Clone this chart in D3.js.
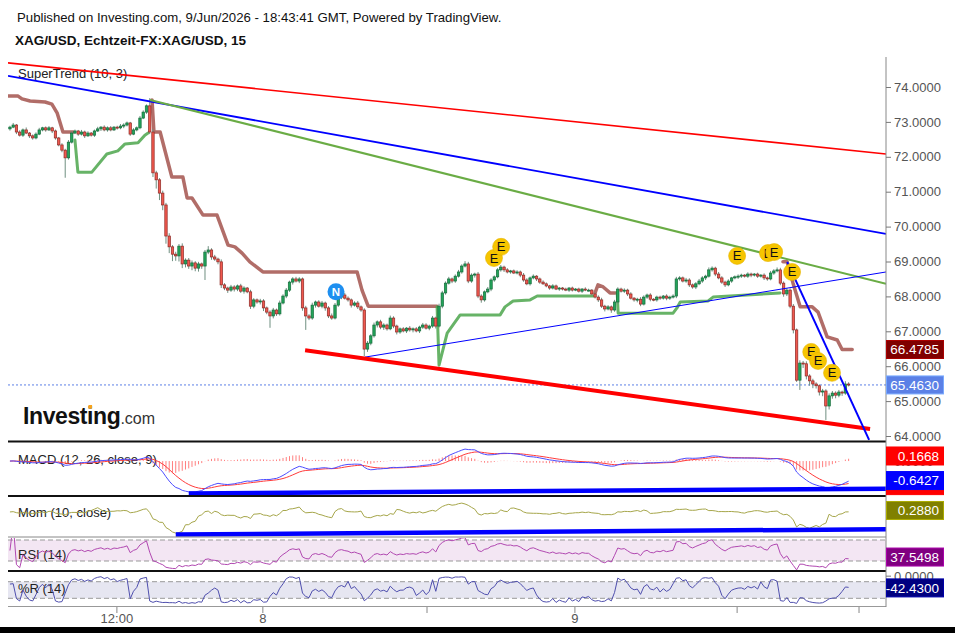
<!DOCTYPE html>
<html>
<head>
<meta charset="utf-8">
<script src="https://cdn.jsdelivr.net/npm/d3@7"></script>
<style>
body { margin: 0; background: #fff; }
svg { display: block; font-family: "Liberation Sans", Arial, sans-serif; }
</style>
</head>
<body>
<div id="chart"></div>
<script>
// 15 min closes
var close = [
72.85,72.91,72.71,72.62,72.77,72.68,72.60,72.54,72.65,72.77,
72.83,72.77,72.83,72.74,72.54,72.34,72.19,71.97,72.42,72.68,
72.74,72.65,72.71,72.60,72.68,72.62,72.74,72.80,72.85,72.77,
72.83,72.77,72.85,72.83,72.88,72.91,72.97,72.65,72.77,72.83,
73.11,73.28,73.46,72.71,71.54,71.34,70.96,70.62,69.73,69.42,
69.21,69.16,69.44,68.93,69.04,68.87,68.96,68.81,68.93,68.87,
69.27,69.33,69.13,69.07,68.99,68.33,68.24,68.18,68.27,68.21,
68.30,68.15,68.24,68.13,67.72,67.90,67.84,67.87,67.67,67.55,
67.44,67.61,67.50,67.81,68.01,68.18,68.41,68.50,68.44,68.50,
67.67,67.44,67.38,67.75,67.84,67.72,67.81,67.67,67.44,67.38,
67.75,67.98,68.04,67.95,67.90,67.75,67.81,67.70,67.61,66.49,
66.66,66.87,67.18,67.27,67.12,67.18,67.07,67.38,67.15,66.98,
67.07,67.01,67.09,67.04,67.07,67.01,67.12,67.18,67.09,67.15,
67.38,67.15,67.72,68.10,68.38,68.50,68.44,68.58,68.70,68.87,
68.93,68.44,68.61,68.64,68.01,67.90,68.13,68.21,68.47,68.56,
68.76,68.84,68.76,68.70,68.73,68.67,68.70,68.61,68.47,68.36,
68.53,68.58,68.50,68.41,68.36,68.30,68.24,68.30,68.21,68.24,
68.21,68.18,68.24,68.18,68.21,68.15,68.21,68.18,68.18,68.07,
67.98,67.90,67.72,67.64,67.70,67.61,67.84,68.21,68.15,68.18,
68.07,67.95,67.90,67.92,67.78,67.98,68.04,67.92,67.90,67.98,
67.95,68.01,67.95,67.98,68.01,68.50,68.53,68.44,68.47,68.33,
68.27,68.36,68.44,68.53,68.58,68.76,68.81,68.64,68.53,68.41,
68.33,68.44,68.53,68.56,68.58,68.61,68.58,68.64,68.61,68.64,
68.58,68.61,68.53,68.50,68.67,68.73,68.76,68.38,68.07,68.18,
67.72,67.04,65.60,66.09,66.07,65.72,65.58,65.49,65.44,65.26,
65.29,64.86,65.15,65.23,65.17,65.26,65.23,65.49,65.46
];
var firstOpen = 72.80;
// upper / lower wick beyond the body, in cents
var hiExt = [
4,6,3,5,4,7,3,4,5,6, 3,4,5,3,4,3,5,4,6,5, 4,3,6,4,5,3,4,6,3,5, 4,5,3,4,6,5,4,3,5,4,
6,5,4,22,8,6,5,7,6,8, 5,7,6,8,5,6,7,5,6,4, 6,11,5,6,4,7,5,4,6,5, 4,6,5,3,6,5,4,6,5,4,
5,6,4,7,5,6,4,5,6,5, 4,6,5,7,4,5,6,4,5,7, 6,5,4,6,5,4,5,6,4,5, 6,5,7,4,6,5,4,7,5,4,
4,5,3,6,4,5,4,6,5,4, 6,4,7,6,5,6,4,5,6,5, 8,6,5,4,6,5,4,6,5,4, 5,6,4,5,3,4,5,4,6,5,
4,5,3,4,5,4,3,5,4,3, 3,4,3,4,3,4,3,5,4,3, 4,5,6,4,5,4,6,5,4,5, 4,5,3,4,6,5,4,5,3,4,
4,3,5,4,5,6,5,4,6,5, 4,5,6,5,4,7,5,4,6,5, 4,5,3,4,5,4,3,5,4,3, 4,3,5,4,6,5,7,6,5,6,
5,6,4,8,6,7,5,6,5,4, 6,5,7,6,5,6,4,8,5
];
var loExt = [
5,3,6,4,5,3,6,5,4,3, 4,5,3,6,5,4,6,57,5,4, 3,5,4,6,3,4,5,3,6,4, 5,4,3,5,4,6,4,5,3,4,
4,3,5,6,12,25,20,15,22,18, 20,14,16,12,10,8,12,9,10,8, 40,6,8,5,7,9,6,8,5,7, 6,5,7,4,8,6,5,7,9,6,
34,7,6,5,4,6,5,7,4,6, 8,40,6,5,7,4,6,8,6,5, 4,5,6,4,5,7,4,6,5,20, 8,6,5,7,6,8,5,4,6,7,
5,4,6,5,7,4,6,5,4,6, 5,7,4,6,5,4,6,5,4,5, 4,6,5,7,6,8,5,4,6,5, 4,5,6,4,5,3,4,6,5,4,
5,4,6,5,3,4,5,4,3,5, 4,3,5,4,3,4,5,3,4,5, 4,6,5,7,4,8,5,6,4,5, 6,4,5,7,6,4,5,6,4,5,
5,4,6,5,4,6,5,4,5,6, 5,6,4,5,6,4,5,6,4,5, 6,4,5,4,6,5,4,5,6,4, 5,4,6,5,4,5,4,6,8,6,
6,10,5,28,12,10,14,12,8,10, 12,40,10,8,9,6,8,5,4
];

// SuperTrend (10, 3) as [candle, price] vertices
var stDown = [
  [[-0.6,73.74],[2.5,73.74],[3.7,73.66],[6.2,73.60],[10.8,73.57],[12.9,73.51],[14.5,73.26],[16.3,72.71],[19.4,72.71]],
  [[43.7,73.63],[44.3,72.71],[46.2,72.71],[49.8,71.42],[53.2,71.42],[54.5,70.82],[56,70.82],[59.4,70.33],[63.7,70.33],
   [67.1,69.47],[69.2,69.42],[71.4,69.24],[73.8,68.99],[77.8,68.70],[106.8,68.70],[108.3,68.18],[110.2,67.72],[131.4,67.72]],
  [[180,68.10],[180.9,68.33],[182.5,68.27],[184.6,68.10],[186.2,68.10]],
  [[237.8,68.99],[239.1,68.99],[240.9,68.38],[243.1,67.70],[246.8,67.70],[248.6,67.55],[251.4,66.84],[254.5,66.75],[256,66.48],[259.1,66.48]]
];
var stUp = [
  [[20,72.48],[20.9,71.56],[25.2,71.56],[29.8,72.08],[33.2,72.17],[35.4,72.37],[39.4,72.40],[41.5,72.62],[42.5,72.68]],
  [[131.4,67.70],[132,66.03],[134.5,66.95],[138.5,67.47],[150.8,67.47],[152.3,67.70],[154.8,67.87],[160,67.90],[162.2,68.01],[179.4,68.01]],
  [[186.8,68.13],[187.1,67.52],[204,67.52],[205.2,67.67],[206.2,67.84],[214.8,67.87],[216.3,67.98],[236.9,68.10]]
];

// drawn trend lines, [candle, price]
var trendRed = [[-0.6,74.69],[269.5,72.08]];
var trendBlue = [[-0.6,74.32],[269.5,69.79]];
var trendGreen = [[43.1,73.63],[269.5,68.36]];
var trendBlueThin = [[109.2,66.26],[269.5,68.70]];
var trendRedThick = [[90.8,66.46],[264.6,64.20]];
var trendBlueSteep = [[239.1,68.99],[264.3,63.89]];

// event markers
var eventIdx = [148.9,151.1,223.7,233.2,235.1,240.6,246.5,248.6,252.9];
var eventPrice = [69.10,69.42,69.16,69.24,69.27,68.70,66.41,66.15,65.81];
var newsIdx = [100.3];
var newsPrice = [68.13];

var priceTicks = [64,65,66,67,68,69,70,71,72,73,74];
var timeTickIdx = [32.9,77.8,128.3,173.8,223.7,261.2];
var timeTickLabels = ["12:00","8","","9","",""];

var lastPrice = 65.4630, lastST = 66.4785;
var lastHist = 0.1668, lastMacd = -0.6427, lastSignal = -0.8095;
var lastMom = 0.2880, lastRsi = 37.5498, lastWr = -42.4300;

// ---------- derived series ----------
var N = close.length;
var open = close.map(function(c, i) { return i ? close[i-1] : firstOpen; });
var high = close.map(function(c, i) { return Math.max(open[i], c) + hiExt[i] / 100; });
var low = close.map(function(c, i) { return Math.min(open[i], c) - loExt[i] / 100; });

function ema(arr, n) {
  var a = 2 / (n + 1), out = [];
  arr.forEach(function(v, i) { out.push(i ? a * v + (1 - a) * out[i-1] : v); });
  return out;
}
var e12 = ema(close, 12), e26 = ema(close, 26);
var macd = close.map(function(c, i) { return e12[i] - e26[i]; });
var signal = ema(macd, 9);
var hist = macd.map(function(m, i) { return m - signal[i]; });
var mom = close.map(function(c, i) { return c - close[Math.max(0, i - 10)]; });
var rsi = [50], ag = 0, al = 0;
for (var i = 1; i < N; i++) {
  var d = close[i] - close[i-1], g = Math.max(d, 0), l = Math.max(-d, 0);
  if (i <= 14) { ag = (ag * (i - 1) + g) / i; al = (al * (i - 1) + l) / i; }
  else { ag = (ag * 13 + g) / 14; al = (al * 13 + l) / 14; }
  rsi.push(al === 0 ? 100 : 100 - 100 / (1 + ag / al));
}
var wr = close.map(function(c, i) {
  var hh = d3.max(high.slice(Math.max(0, i - 13), i + 1));
  var ll = d3.min(low.slice(Math.max(0, i - 13), i + 1));
  return hh === ll ? -50 : (hh - c) / (hh - ll) * -100;
});

// ---------- layout ----------
var W = 955, H = 633, L = 8, R = 886;
var svg = d3.select("#chart").append("svg").attr("width", W).attr("height", H);
svg.append("rect").attr("width", W).attr("height", H).attr("fill", "#fff");

var x = d3.scaleLinear().domain([-0.6, 269.5]).range([L, R]);
var y = d3.scaleLinear().domain([64, 74]).range([436, 87]);
var yMacd = d3.scaleLinear().domain([-1.02, 0.43]).range([492, 448]);
var yMom = d3.scaleLinear().domain([-4.1, 1.9]).range([533, 502.2]);
var yRsi = d3.scaleLinear().domain([30, 70]).range([561, 540]);
var yWr = d3.scaleLinear().domain([-80, -20]).range([598.3, 581.7]);

var panels = { main: [57, 441], macd: [442, 496], mom: [497, 537], rsi: [538, 571], wr: [572, 606] };
var defs = svg.append("defs");
Object.keys(panels).forEach(function(k) {
  defs.append("clipPath").attr("id", "c_" + k).append("rect")
    .attr("x", L).attr("y", panels[k][0]).attr("width", R - L).attr("height", panels[k][1] - panels[k][0]);
});

// header
svg.append("text").attr("x", 17).attr("y", 22).attr("font-size", 13.2).attr("fill", "#111")
  .text("Published on Investing.com, 9/Jun/2026 - 18:43:41 GMT, Powered by TradingView.");
svg.append("text").attr("x", 15).attr("y", 45).attr("font-size", 13.5).attr("font-weight", "bold").attr("fill", "#111")
  .text("XAG/USD, Echtzeit-FX:XAG/USD, 15");

// panel titles
var titles = [["SuperTrend (10, 3)", 77.5], ["MACD (12, 26, close, 9)", 463.5], ["Mom (10, close)", 516.5], ["RSI (14)", 558.5], ["%R (14)", 592.5]];

// bands in RSI / %R
svg.append("rect").attr("x", L).attr("width", R - L).attr("y", yRsi(70)).attr("height", yRsi(30) - yRsi(70)).attr("fill", "#f3e6f3");
svg.append("rect").attr("x", L).attr("width", R - L).attr("y", yWr(-20)).attr("height", yWr(-80) - yWr(-20)).attr("fill", "#e6e6f1");
[yRsi(70), yRsi(30), yWr(-20), yWr(-80)].forEach(function(v) {
  svg.append("line").attr("x1", L).attr("x2", R).attr("y1", v).attr("y2", v)
    .attr("stroke", "#999").attr("stroke-dasharray", "5,3");
});

titles.forEach(function(t) {
  svg.append("text").attr("x", 18).attr("y", t[1]).attr("font-size", 13).attr("fill", "#222").text(t[0]);
});

// ---------- main panel ----------
var gm = svg.append("g").attr("clip-path", "url(#c_main)");
var line = d3.line().x(function(p) { return x(p[0]); }).y(function(p) { return y(p[1]); });

// logo
var logo = gm.append("text").attr("x", 23).attr("y", 424).attr("font-size", 23).attr("font-weight", "bold")
  .attr("letter-spacing", -0.4).attr("fill", "#111").text("Investing");
logo.append("tspan").attr("font-size", 16).attr("font-weight", "normal").attr("letter-spacing", 0).attr("fill", "#333").text(".com");
var ext = logo.node().getExtentOfChar(6);
gm.append("rect").attr("x", ext.x + ext.width / 2 - 1.6).attr("y", ext.y + 2).attr("width", 3.6).attr("height", 3.6)
  .attr("fill", "#f7a21b");

// last price dotted line
gm.append("line").attr("x1", L).attr("x2", R).attr("y1", y(lastPrice)).attr("y2", y(lastPrice))
  .attr("stroke", "#5b7fe6").attr("stroke-dasharray", "2,2");

// supertrend
stDown.forEach(function(s) {
  gm.append("path").attr("d", line(s)).attr("fill", "none").attr("stroke", "#a3534e").attr("stroke-opacity", 0.85)
    .attr("stroke-width", 3.5).attr("stroke-linejoin", "round").attr("stroke-linecap", "round");
});
stUp.forEach(function(s) {
  gm.append("path").attr("d", line(s)).attr("fill", "none").attr("stroke", "#4ca64c").attr("stroke-opacity", 0.85)
    .attr("stroke-width", 3).attr("stroke-linejoin", "round").attr("stroke-linecap", "round");
});

// candles
var bw = 2.4;
var candles = gm.selectAll("g.candle").data(d3.range(N)).enter().append("g");
candles.append("line")
  .attr("x1", function(i) { return x(i); }).attr("x2", function(i) { return x(i); })
  .attr("y1", function(i) { return y(high[i]); }).attr("y2", function(i) { return y(low[i]); })
  .attr("stroke", "#6f8f80").attr("stroke-width", 1);
candles.append("rect")
  .attr("x", function(i) { return x(i) - bw / 2; }).attr("width", bw)
  .attr("y", function(i) { return y(Math.max(open[i], close[i])); })
  .attr("height", function(i) { return Math.max(1, Math.abs(y(open[i]) - y(close[i]))); })
  .attr("fill", function(i) { return close[i] >= open[i] ? "#22a45a" : "#f0584e"; })
  .attr("stroke", function(i) { return close[i] >= open[i] ? "#156b3a" : "#8c2a26"; })
  .attr("stroke-width", 0.7);

// trend lines
[[trendRed, "#ff0000", 1.6], [trendBlue, "#0000ff", 1.8], [trendGreen, "#6aac45", 2],
 [trendBlueThin, "#0000ff", 1], [trendRedThick, "#ff0000", 4], [trendBlueSteep, "#0000ff", 2]].forEach(function(t) {
  gm.append("path").attr("d", line(t[0])).attr("fill", "none").attr("stroke", t[1]).attr("stroke-width", t[2]);
});

// markers
eventIdx.forEach(function(ix, k) {
  var m = gm.append("g").attr("transform", "translate(" + x(ix) + "," + y(eventPrice[k]) + ")");
  m.append("circle").attr("r", 8.5).attr("fill", "#f6c500").attr("stroke", "#e6b400").attr("stroke-width", 0.6);
  m.append("text").attr("text-anchor", "middle").attr("y", 4.5).attr("font-size", 13).attr("fill", "#111").text("E");
});
newsIdx.forEach(function(ix, k) {
  var m = gm.append("g").attr("transform", "translate(" + x(ix) + "," + y(newsPrice[k]) + ")");
  m.append("circle").attr("r", 8.5).attr("fill", "#1e8ff0");
  m.append("text").attr("text-anchor", "middle").attr("y", 4.2).attr("font-size", 11.5).attr("font-weight", "bold")
    .attr("fill", "#fff").text("N");
});

// ---------- MACD ----------
var gmacd = svg.append("g").attr("clip-path", "url(#c_macd)");
gmacd.selectAll("line.h").data(d3.range(N)).enter().append("line")
  .attr("x1", function(i) { return x(i); }).attr("x2", function(i) { return x(i); })
  .attr("y1", yMacd(0)).attr("y2", function(i) { return yMacd(hist[i]); })
  .attr("stroke", "#ff6060").attr("stroke-opacity", 0.8).attr("stroke-width", 1);
function series(g, arr, ys, color, w) {
  g.append("path").attr("d", d3.line().x(function(v, i) { return x(i); }).y(function(v) { return ys(v); })(arr))
    .attr("fill", "none").attr("stroke", color).attr("stroke-width", w || 1);
}
series(gmacd, signal, yMacd, "#ff3b3b");
series(gmacd, macd, yMacd, "#4d4dff");

// trend line through the two troughs
function troughLine(g, arr, ys, splitA, splitB) {
  var i1 = d3.minIndex(arr.slice(0, splitA));
  var i2 = splitB + d3.minIndex(arr.slice(splitB));
  var v1 = arr[i1], v2 = arr[i2], xe = x.domain()[1];
  var ve = v1 + (v2 - v1) * (xe - i1) / (i2 - i1);
  g.append("line").attr("x1", x(i1)).attr("y1", ys(v1) + 1.5).attr("x2", x(xe)).attr("y2", ys(ve) + 1.5)
    .attr("stroke", "#0000ff").attr("stroke-width", 4.5);
}
troughLine(gmacd, d3.range(N).map(function(i) { return Math.min(macd[i], signal[i]); }), yMacd, 150, 200);

// ---------- Mom ----------
var gmom = svg.append("g").attr("clip-path", "url(#c_mom)");
series(gmom, mom, yMom, "#a6a64a");
troughLine(gmom, mom, yMom, 150, 200);

// ---------- RSI / %R ----------
var grsi = svg.append("g").attr("clip-path", "url(#c_rsi)");
series(grsi, rsi, yRsi, "#b148b1");
var gwr = svg.append("g").attr("clip-path", "url(#c_wr)");
series(gwr, wr, yWr, "#4f4fae");

// ---------- frame ----------
[[441.5, "#111", 2], [496, "#111", 2], [537, "#888", 1], [571, "#111", 2], [606.5, "#999", 1]].forEach(function(s) {
  svg.append("line").attr("x1", L).attr("x2", R).attr("y1", s[0]).attr("y2", s[0]).attr("stroke", s[1]).attr("stroke-width", s[2]);
});
svg.append("line").attr("x1", R).attr("x2", R).attr("y1", 57).attr("y2", 607).attr("stroke", "#888");

// price axis
var ax = svg.append("g").attr("transform", "translate(" + R + ",0)")
  .call(d3.axisRight(y).tickValues(priceTicks).tickSize(5).tickFormat(function(v) { return v.toFixed(4); }));
ax.select(".domain").remove();
ax.selectAll("line").attr("stroke", "#777");
ax.selectAll("text").attr("font-size", 13).attr("fill", "#555").attr("font-family", "Liberation Sans, Arial, sans-serif");
[yMacd(0), yWr(0)].forEach(function(v) {
  svg.append("line").attr("x1", R).attr("x2", R + 5).attr("y1", v).attr("y2", v).attr("stroke", "#777");
  svg.append("text").attr("x", R + 8).attr("y", v + 4.5).attr("font-size", 13).attr("fill", "#555").text((0).toFixed(4));
});

// time axis
timeTickIdx.forEach(function(ix, k) {
  svg.append("line").attr("x1", x(ix)).attr("x2", x(ix)).attr("y1", 607).attr("y2", 613).attr("stroke", "#888");
  if (timeTickLabels[k]) {
    svg.append("text").attr("x", x(ix)).attr("y", 623).attr("text-anchor", "middle").attr("font-size", 13)
      .attr("fill", "#555").text(timeTickLabels[k]);
  }
});

// value tags
function tag(v, ys, fill) {
  var yy = ys(v);
  svg.append("rect").attr("x", R + 0.5).attr("y", yy - 9).attr("width", 57).attr("height", 18)
    .attr("fill", fill).attr("stroke", d3.color(fill).brighter(0.8)).attr("stroke-width", 1);
  svg.append("text").attr("x", R + 53).attr("y", yy + 4.8).attr("text-anchor", "end").attr("font-size", 13.5)
    .attr("fill", "#fff").text(v.toFixed(4));
}
tag(lastST, y, "#800000");
tag(lastPrice, y, "#5b80e6");
tag(lastHist, yMacd, "#ff0000");
tag(lastSignal, yMacd, "#ff0000");
tag(lastMacd, yMacd, "#0000ff");
tag(lastMom, yMom, "#808000");
tag(lastRsi, yRsi, "#800080");
tag(lastWr, yWr, "#000080");

// bottom bar
svg.append("rect").attr("x", 0).attr("y", 627).attr("width", W).attr("height", 6).attr("fill", "#000");
</script>
</body>
</html>
